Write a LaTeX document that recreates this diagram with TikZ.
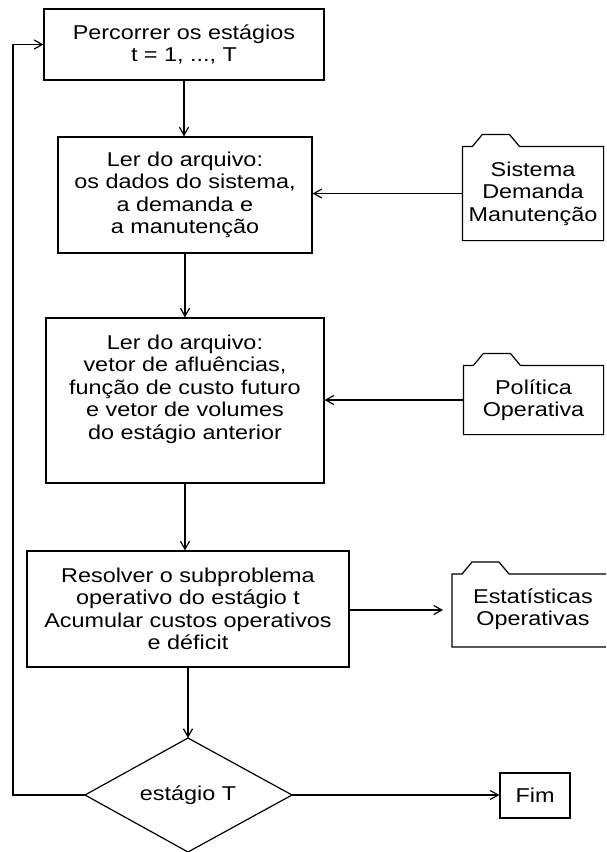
\documentclass[tikz,border=0pt]{standalone}
\usepackage{fontspec}
\setmainfont{Liberation Sans}[FakeStretch=1.17]
\usetikzlibrary{arrows.meta}

\begin{document}
\begin{tikzpicture}[x=1pt,y=-1pt,line width=1.2pt,
  txt/.style={font=\fontsize{20}{22.5}\selectfont,align=center,inner sep=0pt},
  procbox/.style={txt,draw,rectangle},
  flow/.style={-{Straight Barb[length=8pt,width=9pt,line width=1.2pt]}},
  folder/.style={line join=miter}]
\clip (0,0) rectangle (606,852);

% process boxes
\node[procbox,minimum width=280pt,minimum height=71pt] (b1) at (184,44.5)
  {Percorrer os estágios\\t = 1, ..., T};
\node[procbox,minimum width=254pt,minimum height=116pt] (b2) at (185,195)
  {Ler do arquivo:\\os dados do sistema,\\a demanda e\\a manutenção};
\node[draw,rectangle,minimum width=278pt,minimum height=165pt] (b3) at (185,400.5) {};
\node[txt] (b3t) at (185,389)
  {Ler do arquivo:\\vetor de afluências,\\função de custo futuro\\e vetor de volumes\\do estágio anterior};
\node[procbox,minimum width=322pt,minimum height=116pt] (b4) at (188,609)
  {Resolver o subproblema\\operativo do estágio t\\Acumular custos operativos\\e déficit};

% decision
\coordinate (dtop) at (188,738);
\coordinate (dright) at (292,795);
\coordinate (dbot) at (188,852);
\coordinate (dleft) at (85,795);
\draw (dtop) -- (dright) -- (dbot) -- (dleft) -- cycle;
\node[txt] (dec) at (188,795) {estágio T};

\node[procbox,minimum width=70pt,minimum height=45pt] (fim) at (535,795.5) {Fim};

% file folders
\node[txt,minimum width=140pt,minimum height=93pt] (f1) at (533,193.5)
  {Sistema\\Demanda\\Manutenção};
\draw[folder] (f1.south west) -- (f1.north west) -- ++(10,0) -- ++(10,-12)
  -- ++(27,0) -- ++(10,12) -- (f1.north east) -- (f1.south east) -- cycle;

\node[txt,minimum width=139pt,minimum height=68pt] (f2) at (533.5,400)
  {Política\\Operativa};
\draw[folder] (f2.south west) -- (f2.north west) -- ++(10,0) -- ++(10,-12)
  -- ++(27,0) -- ++(10,12) -- (f2.north east) -- (f2.south east) -- cycle;

\node[txt] (f3) at (533,609) {Estatísticas\\Operativas};
\coordinate (f3sw) at (452,647);
\coordinate (f3nw) at (452,574);
\draw[folder] (620,647) -- (f3sw) -- (f3nw) -- ++(10,0) -- ++(10,-12)
  -- ++(27,0) -- ++(10,12) -- (620,574);

% connectors
\draw[flow] (b1) -- (b1 |- b2.north);
\draw[flow] (b2) -- (b2 |- b3.north);
\draw[flow] (b3) -- (b3 |- b4.north);
\draw[flow] (b4.south) -- (dtop);
\draw[flow] (f1.west) -- (f1.west -| b2.east);
\draw[flow] (f2.west) -- (f2.west -| b3.east);
\coordinate (f3tip) at (443,610);
\draw[flow] (b4.east |- f3tip) -- (f3tip);
\draw[flow] (dright) -- (dright -| fim.west);
\coordinate (loopb) at (13,795);
\draw[flow] (dleft) -- (loopb) |- (b1.west);
\end{tikzpicture}
\end{document}
